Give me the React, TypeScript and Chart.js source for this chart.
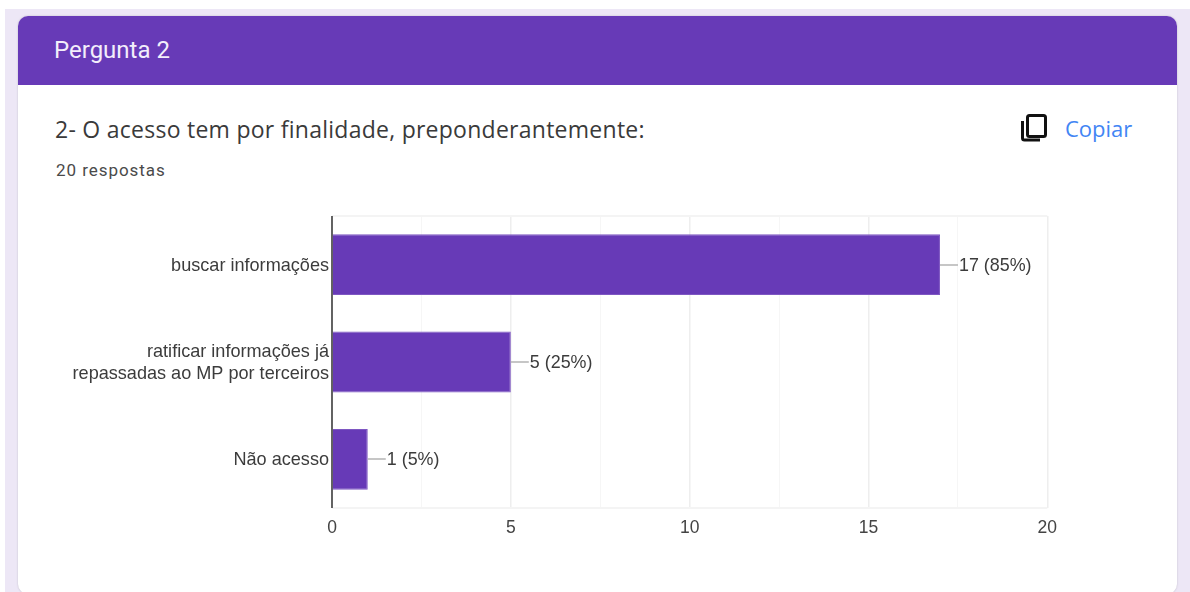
import React, { useEffect, useRef } from "react";
import { Chart, registerables } from "chart.js";

Chart.register(...registerables);

const categories: (string | string[])[] = [
  "buscar informações",
  ["ratificar informações já", "repassadas ao MP por terceiros"],
  "Não acesso",
];
const values = [17, 5, 1];
const valueLabels = ["17 (85%)", "5 (25%)", "1 (5%)"];
const axisTicks = [0, 2.5, 5, 7.5, 10, 12.5, 15, 17.5, 20];

const PURPLE = "#673ab7";
const CHART_FONT = "'Liberation Sans', Arial, sans-serif";

const framePlugin = {
  id: "frame",
  beforeDatasetsDraw(chart: any) {
    const { ctx, scales } = chart;
    ctx.save();
    ctx.strokeStyle = "#f4f4f4";
    ctx.lineWidth = 2;
    ctx.beginPath();
    ctx.moveTo(scales.x.left, scales.y.top);
    ctx.lineTo(scales.x.right, scales.y.top);
    ctx.moveTo(scales.x.left, scales.y.bottom);
    ctx.lineTo(scales.x.right, scales.y.bottom);
    ctx.stroke();
    ctx.restore();
  },
};

const leaderPlugin = {
  id: "leaders",
  afterDatasetsDraw(chart: any) {
    const { ctx, scales } = chart;
    const x = scales.x;
    const y = scales.y;
    ctx.save();
    ctx.font = `17.9px ${CHART_FONT}`;
    ctx.textBaseline = "middle";
    values.forEach((v, i) => {
      const px = x.getPixelForValue(v);
      const py = Math.round(y.getPixelForValue(i));
      ctx.strokeStyle = "#a8a8a8";
      ctx.lineWidth = 1.3;
      ctx.beginPath();
      ctx.moveTo(px, py);
      ctx.lineTo(px + 18, py);
      ctx.stroke();
      ctx.fillStyle = "#3c3c3c";
      ctx.fillText(valueLabels[i], px + 19, py + 1);
    });
    ctx.restore();
  },
};

const axisLinePlugin = {
  id: "axisLine",
  afterDatasetsDraw(chart: any) {
    const { ctx, scales } = chart;
    const px = Math.round(scales.x.getPixelForValue(0));
    ctx.save();
    ctx.strokeStyle = "#333333";
    ctx.lineWidth = 1.5;
    ctx.beginPath();
    ctx.moveTo(px, scales.y.top);
    ctx.lineTo(px, scales.y.bottom);
    ctx.stroke();
    ctx.restore();
  },
};

export default function App() {
  const ref = useRef<HTMLCanvasElement>(null);
  useEffect(() => {
    document.body.style.margin = "0";
    document.body.style.background = "#ffffff";
    const chart = new Chart(ref.current as HTMLCanvasElement, {
      type: "bar",
      data: {
        labels: categories as any,
        datasets: [
          {
            data: values,
            backgroundColor: PURPLE,
            borderColor: "#7e57c2",
            borderWidth: 1,
            categoryPercentage: 1,
            barPercentage: 0.625,
          },
        ],
      },
      options: {
        indexAxis: "y",
        responsive: false,
        animation: false,
        maintainAspectRatio: false,
        layout: { padding: { top: 216, bottom: 44, right: 18, left: 0 } },
        plugins: { legend: { display: false }, tooltip: { enabled: false }, title: { display: false } },
        scales: {
          x: {
            min: 0,
            max: 20,
            afterBuildTicks(scale: any) {
              scale.ticks = axisTicks.map((value) => ({ value }));
            },
            grid: {
              color: (c: any) => (Number.isInteger(c.tick?.value) ? "#eeeeee" : "#f6f6f6"),
              drawTicks: false,
              lineWidth: (c: any) => (Number.isInteger(c.tick?.value) ? 1.5 : 1),
            },
            border: { display: false },
            ticks: {
              autoSkip: false,
              maxRotation: 0,
              padding: 10,
              color: "#444444",
              font: { family: CHART_FONT, size: 17.5 },
              callback: (v: any) => (Number.isInteger(Number(v)) ? String(v) : ""),
            },
            afterFit(scale: any) {
              scale.height = 40;
            },
          },
          y: {
            grid: { display: false, drawTicks: false },
            border: { display: false },
            ticks: {
              autoSkip: false,
              padding: 3,
              labelOffset: 1,
              color: "#3c3c3c",
              font: { family: CHART_FONT, size: 18.1, lineHeight: 1.22 },
            },
            afterFit(scale: any) {
              scale.width = 314;
            },
          },
        },
      },
      plugins: [framePlugin, axisLinePlugin, leaderPlugin],
    } as any);
    return () => chart.destroy();
  }, []);

  const text = (style: React.CSSProperties, content: string) => (
    <div style={{ position: "absolute", whiteSpace: "nowrap", lineHeight: 1, ...style }}>{content}</div>
  );

  return (
    <div style={{ position: "absolute", left: 0, top: 0, width: 1190, height: 592, overflow: "hidden", background: "#fff", fontFamily: "Roboto, sans-serif" }}>
      <div style={{ position: "absolute", left: 5, top: 9, width: 1185, height: 583, background: "#ede7f6" }} />
      <div style={{ position: "absolute", left: 18, top: 16, width: 1159, height: 578, background: "#fff", borderRadius: 10, overflow: "hidden", boxShadow: "0 0 2px #bdb9c7" }}>
        <div style={{ height: 69, background: PURPLE }} />
      </div>
      {text({ left: 54, top: 38, fontSize: 24, color: "#f3eefb", fontFamily: "Roboto, sans-serif" }, "Pergunta 2")}
      {text({ left: 55, top: 118, fontSize: 23, color: "#3a3a3a", fontFamily: "'Open Sans', sans-serif", letterSpacing: 0.26 }, "2- O acesso tem por finalidade, preponderantemente:")}
      {text({ left: 56, top: 162, fontSize: 17, color: "#4a4a4a", letterSpacing: 0.95 }, "20 respostas")}
      <svg style={{ position: "absolute", left: 1018, top: 112 }} width="32" height="32" viewBox="0 0 32 32">
        <rect x="9.5" y="3.5" width="18" height="21" rx="2" fill="none" stroke="#111" strokeWidth="3" />
        <path d="M4.5 9 V26 a2 2 0 0 0 2 2 H22" fill="none" stroke="#111" strokeWidth="3" />
      </svg>
      {text({ left: 1065, top: 117, fontSize: 22, color: "#4285f4", fontFamily: "'Open Sans', sans-serif" }, "Copiar")}
      <canvas ref={ref} width={1049} height={592} style={{ position: "absolute", left: 18, top: 0, width: 1049, height: 592 }} />
    </div>
  );
}
